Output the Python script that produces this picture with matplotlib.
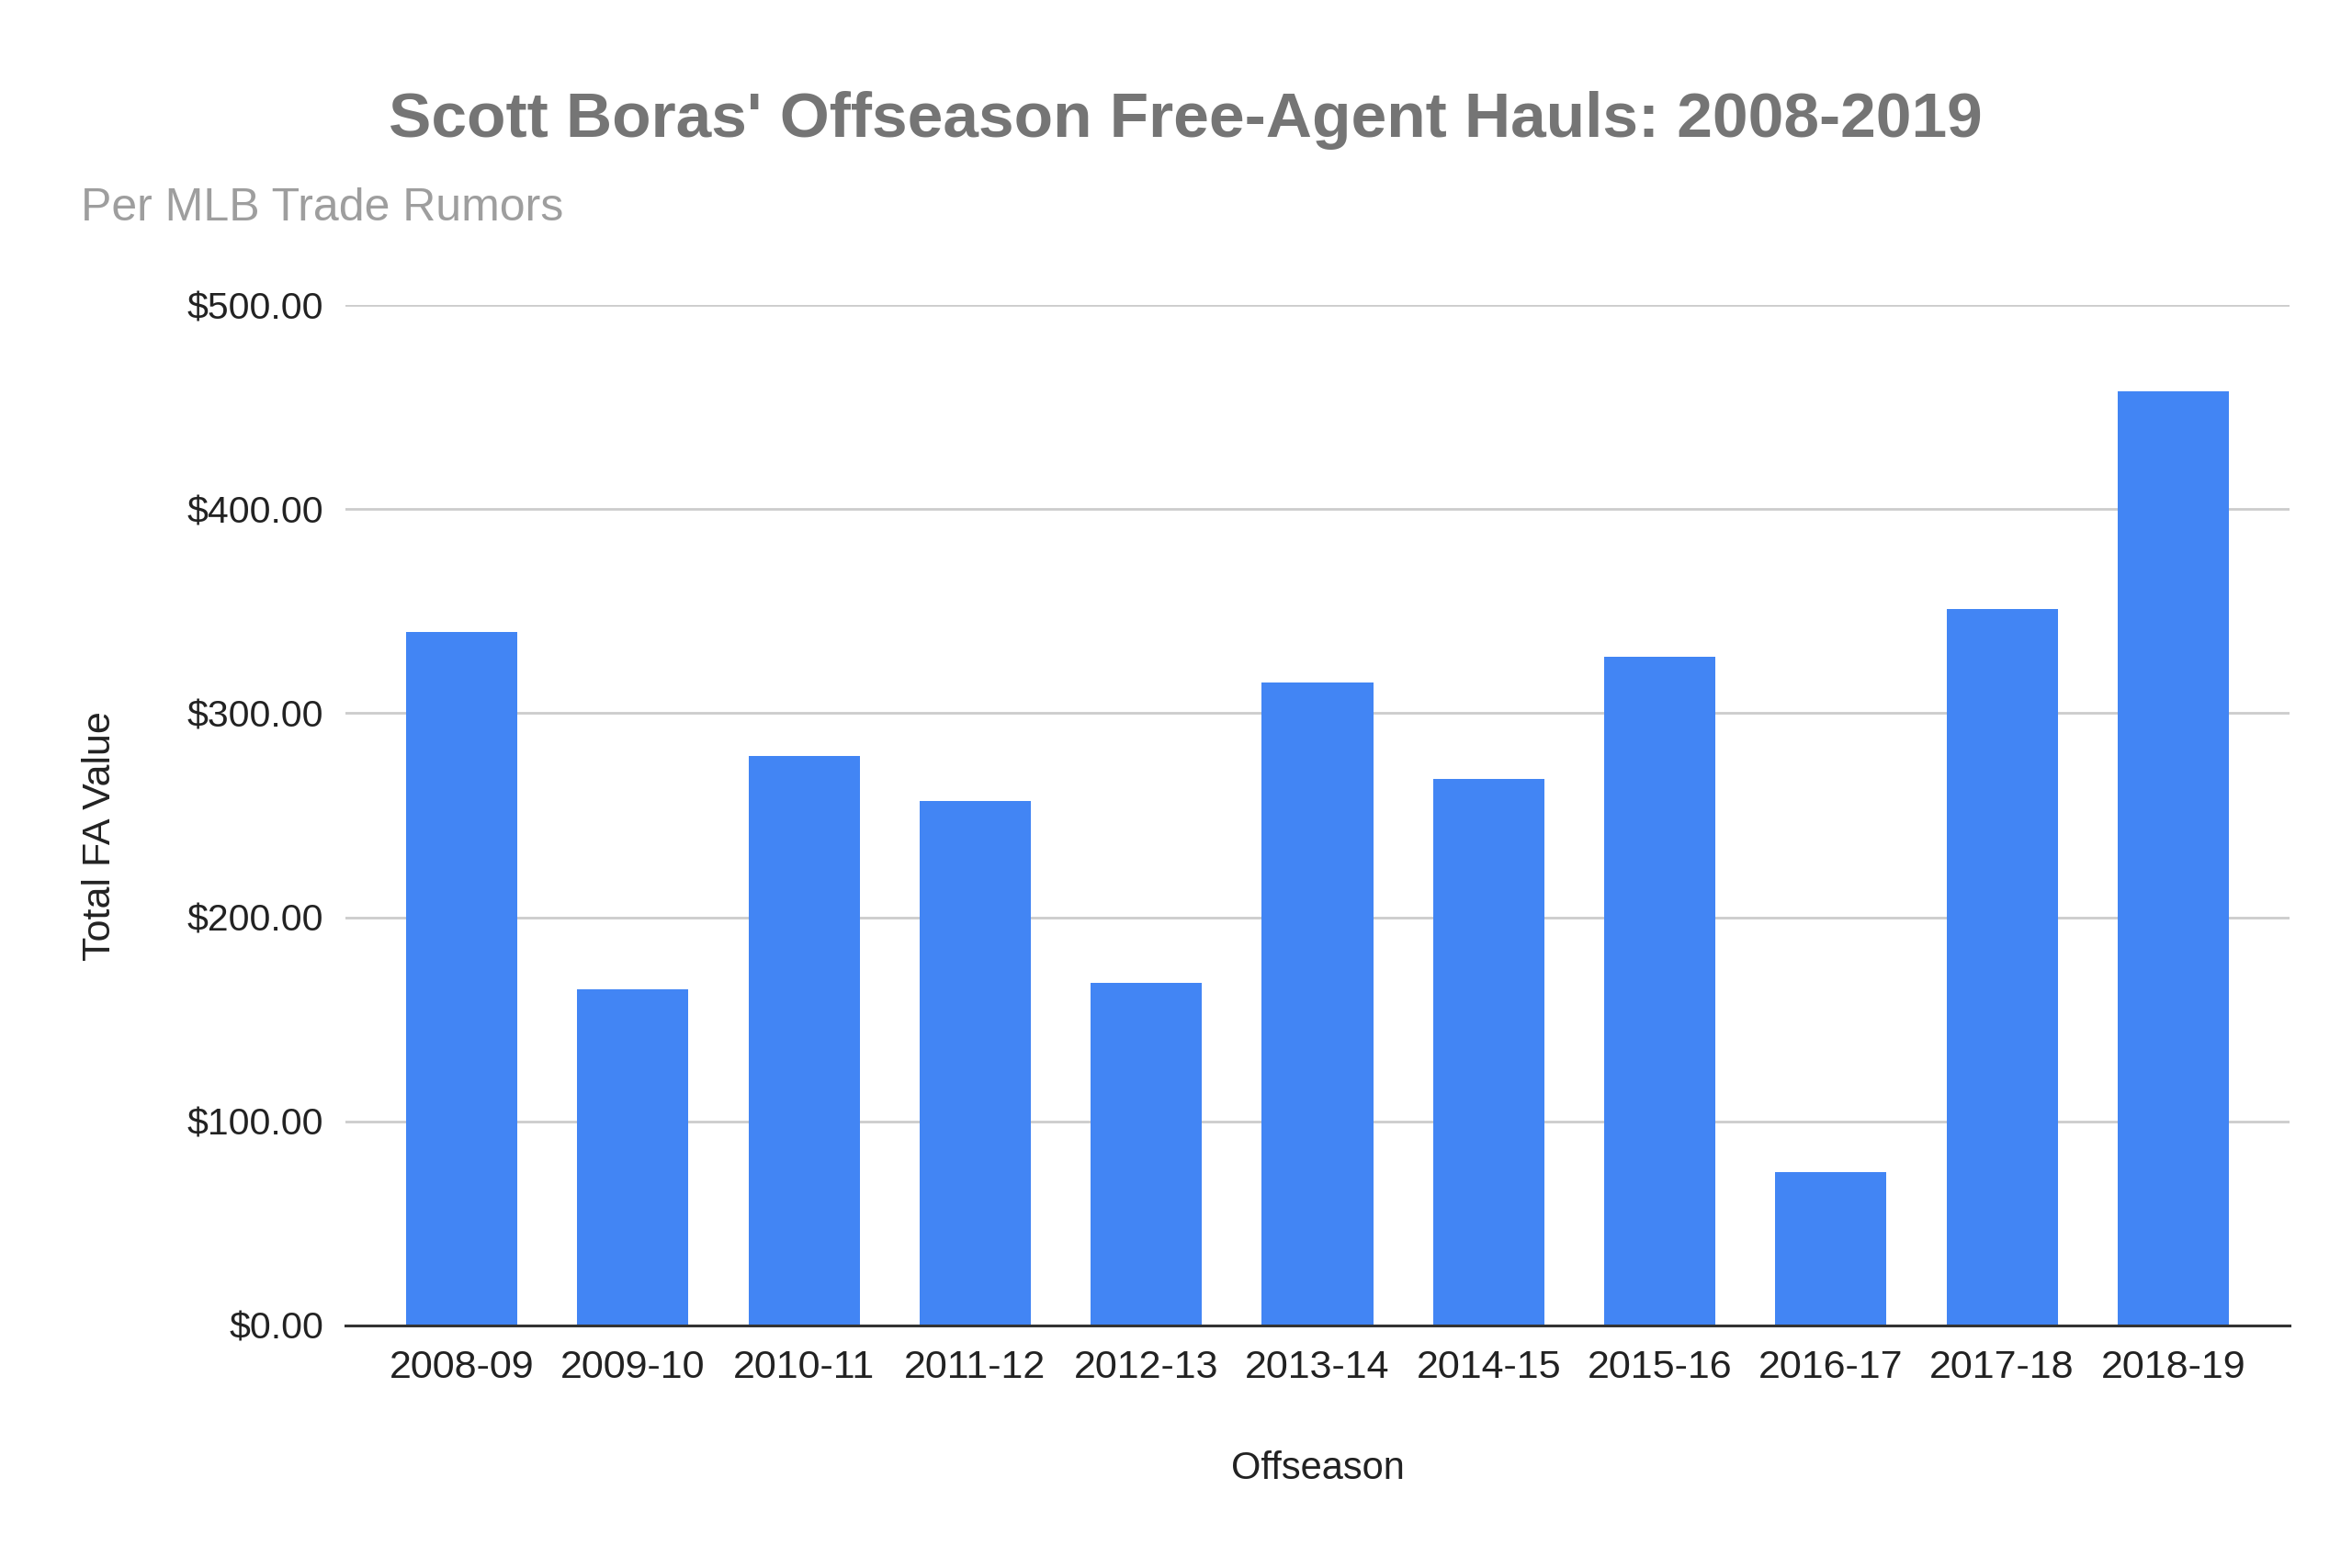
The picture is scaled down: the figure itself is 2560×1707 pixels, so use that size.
import matplotlib
matplotlib.use("Agg")
import matplotlib.pyplot as plt
from matplotlib.ticker import FuncFormatter

seasons = ["2008-09", "2009-10", "2010-11", "2011-12", "2012-13", "2013-14",
           "2014-15", "2015-16", "2016-17", "2017-18", "2018-19"]
values = [340.0, 164.6, 279.0, 257.2, 167.7, 315.1, 268.0, 327.5, 75.1, 351.0, 457.6]
yticks = [0, 100, 200, 300, 400, 500]

plt.rcParams['font.family'] = ['Liberation Sans', 'DejaVu Sans']

fig = plt.figure(figsize=(25.6, 17.07), dpi=100)
W, H = 2560, 1707
left, right, top, bottom = 376, 2492, 332, 1443
ax = fig.add_axes([left / W, 1 - bottom / H, (right - left) / W, (bottom - top) / H])

x = list(range(len(seasons)))
ax.bar(x, values, width=0.65, color="#4285F4", zorder=3)

ax.set_xlim(-0.68, len(seasons) - 1 + 0.68)
ax.set_ylim(0, 500)
ax.set_yticks(yticks)
ax.yaxis.set_major_formatter(FuncFormatter(lambda v, p: f"${v:,.2f}"))
ax.set_xticks(x)
ax.set_xticklabels(seasons)
ax.tick_params(axis='y', length=0, labelsize=29.5, labelcolor="#222222", pad=17)
ax.tick_params(axis='x', length=0, labelsize=31, labelcolor="#222222", pad=19)
ax.grid(axis='y', color="#cccccc", linewidth=2, zorder=0)
for s in ['top', 'right', 'left']:
    ax.spines[s].set_visible(False)
ax.spines['bottom'].set_color("#333333")
ax.spines['bottom'].set_linewidth(2.2)
ax.spines['bottom'].set_zorder(4)

ax.set_xlabel("Offseason", fontsize=30, color="#222222")
ax.xaxis.set_label_coords(0.5, -(1599 - 1443) / (bottom - top), transform=ax.transAxes)
ax.xaxis.label.set_va('center')
ax.set_ylabel("Total FA Value", fontsize=31, color="#222222")
ax.yaxis.set_label_coords((109 - left) / (right - left), (bottom - 910) / (bottom - top))
ax.yaxis.label.set_va('center')

fig.text(1290 / W, 1 - 131 / H, "Scott Boras' Offseason Free-Agent Hauls: 2008-2019",
         ha='center', va='center', fontsize=50, fontweight='bold', color="#757575")
fig.text(88 / W, 1 - 227 / H, "Per MLB Trade Rumors", ha='left', va='center',
         fontsize=36, color="#9e9e9e")

fig.savefig("out.png", dpi=100, facecolor="white")
